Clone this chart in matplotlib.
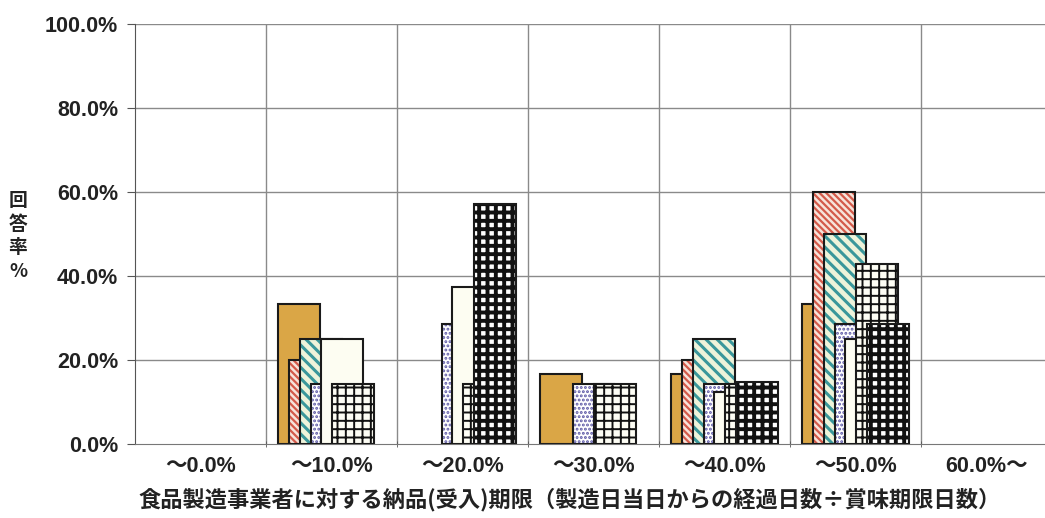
import matplotlib

matplotlib.use("Agg")

import matplotlib.pyplot as plt
import numpy as np

plt.rcParams["font.family"] = ["Liberation Sans", "Noto Sans CJK JP", "DejaVu Sans"]

categories = ["～0.0%", "～10.0%", "～20.0%", "～30.0%", "～40.0%", "～50.0%", "60.0%～"]
y_ticks = [0, 20, 40, 60, 80, 100]

# 回答率(%) per series, one value per category
gold_vals = [0, 33.3, 0, 16.7, 16.7, 33.3, 0]
red_vals = [0, 20.0, 0, 0, 20.0, 60.0, 0]
teal_vals = [0, 25.0, 0, 0, 25.0, 50.0, 0]
purple_vals = [0, 14.3, 28.6, 14.3, 14.3, 28.6, 0]
white_vals = [0, 25.0, 37.5, 0, 12.5, 25.0, 0]
grid_vals = [0, 14.3, 14.3, 14.3, 14.3, 42.9, 0]
dots_vals = [0, 0, 57.1, 0, 14.8, 28.6, 0]

# face colour, hatch, hatch colour, hatch line width
series = [
    (gold_vals, "#DAA646", None, None, 1.0),
    (red_vals, "#F7E3DA", "\\\\\\\\\\", "#D35A4A", 1.6),
    (teal_vals, "#EEF3DA", "\\\\\\", "#3A979B", 2.2),
    (purple_vals, "#FFFFFF", "....", "#5E5AA6", 1.4),
    (white_vals, "#FDFDF2", None, None, 1.0),
    (grid_vals, "#FDFDF4", "++", "#111111", 1.4),
    (dots_vals, "#FFFFFF", "++", "#111111", 2.8),
]

step = 0.0817
width = 0.32
x = np.arange(len(categories))

fig = plt.figure(figsize=(10.45, 5.18), dpi=100)
fig.patch.set_facecolor("white")
ax = fig.add_axes([135 / 1045, 1 - 444 / 518, 910 / 1045, 420 / 518])
ax.set_facecolor("white")

# grid first so bars sit on top
for yv in y_ticks[1:]:
    ax.axhline(yv, color="#8a8a8a", lw=1.0, zorder=0)
for xv in x[1:] - 0.5:
    ax.axvline(xv, color="#8a8a8a", lw=1.0, zorder=0)

z = 2
for i, (vals, face, hatch, hcolor, hlw) in enumerate(series):
    offset = (i - (len(series) - 1) / 2) * step
    vals = np.array(vals, dtype=float)
    keep = vals > 0
    xs = x[keep] + offset
    hs = vals[keep]
    if hatch:
        fill = ax.bar(xs, hs, width, color=face, edgecolor=hcolor, hatch=hatch,
                      linewidth=0, zorder=z)
        for p in fill:
            if hasattr(p, "set_hatch_linewidth"):
                p.set_hatch_linewidth(hlw)
    else:
        ax.bar(xs, hs, width, color=face, linewidth=0, zorder=z)
    ax.bar(xs, hs, width, facecolor="none", edgecolor="#1a1a1a", linewidth=1.5, zorder=z + 0.5)
    z += 1

ax.set_xlim(-0.5, 6.5 - 7 / 131)
ax.set_ylim(0, 100)
ax.set_yticks(y_ticks)
ax.set_yticklabels([f"{v:.1f}%" for v in y_ticks], fontsize=15.5, fontweight="bold", color="#222222")
ax.set_xticks(x)
ax.set_xticklabels(categories, fontsize=15.5, fontweight="bold", color="#222222")
ax.set_xticks(x[1:] - 0.5, minor=True)
ax.tick_params(axis="x", which="major", length=0, pad=9)
ax.tick_params(axis="x", which="minor", length=5, direction="inout", color="#555555")
ax.tick_params(axis="y", length=6, direction="out", color="#555555", pad=6)

for side in ["top", "right"]:
    ax.spines[side].set_visible(False)
ax.spines["left"].set_color("#555555")
ax.spines["bottom"].set_color("#777777")

fig.text(18 / 1045, 1 - 236 / 518, "回\n答\n率\n%", ha="center", va="center",
         fontsize=13.5, fontweight="bold", linespacing=1.3,
         family=["Noto Sans CJK JP", "DejaVu Sans"], color="#222222")
fig.text(570 / 1045, 1 - 500 / 518,
         "食品製造事業者に対する納品(受入)期限（製造日当日からの経過日数÷賞味期限日数）",
         ha="center", va="center", fontsize=16, fontweight="bold",
         family=["Noto Sans CJK JP", "DejaVu Sans"], color="#222222")

fig.savefig("out.png", dpi=100, facecolor="white")
plt.close(fig)
